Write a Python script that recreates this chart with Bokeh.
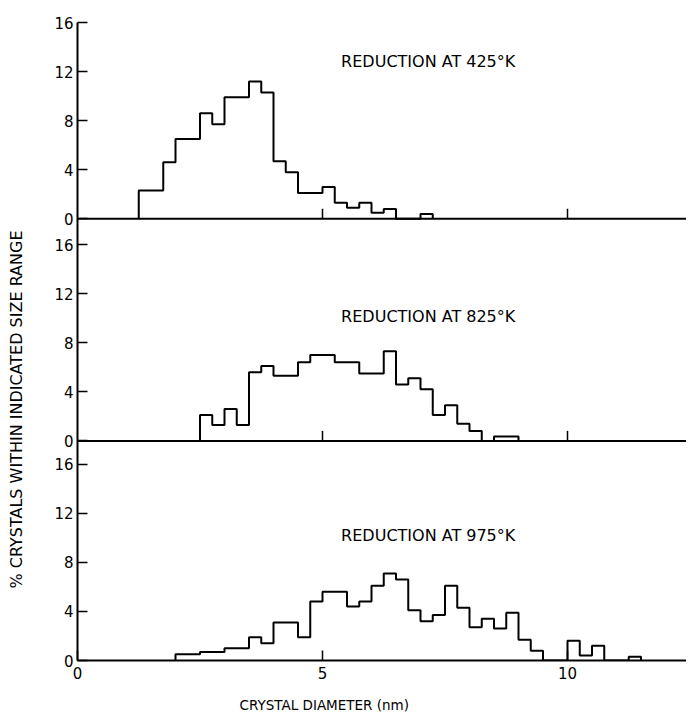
import numpy as np
from bokeh.plotting import figure
from bokeh.models import Range1d, FixedTicker, Label, Span, Title
from bokeh.layouts import row
from bokeh.embed import file_html
from bokeh.resources import INLINE

# ---------------- data ----------------
bin_width = 0.25
start_425 = 1.25
pct_425 = [2.3, 2.3, 4.6, 6.5, 6.5, 8.6, 7.7, 9.9, 9.9, 11.2, 10.3, 4.7,
           3.8, 2.1, 2.1, 2.6, 1.3, 0.9, 1.3, 0.5, 0.8, 0.0, 0.0, 0.4]
start_825 = 2.5
pct_825 = [2.1, 1.3, 2.6, 1.3, 5.6, 6.1, 5.3, 5.3, 6.4, 7.0, 7.0, 6.4, 6.4,
           5.5, 5.5, 7.3, 4.6, 5.1, 4.2, 2.1, 2.9, 1.4, 0.8, 0.0, 0.35, 0.35]
start_975 = 2.0
pct_975 = [0.5, 0.5, 0.7, 0.7, 1.0, 1.0, 1.9, 1.4, 3.1, 3.1, 1.9, 4.8, 5.6,
           5.6, 4.4, 4.8, 6.1, 7.1, 6.6, 4.1, 3.2, 3.7, 6.1, 4.3, 2.7, 3.4,
           2.6, 3.9, 1.7, 0.8, 0.0, 0.0, 1.6, 0.4, 1.2, 0.0, 0.0, 0.3]
panel_titles = ["REDUCTION AT 425°K", "REDUCTION AT 825°K", "REDUCTION AT 975°K"]
y_ticks = [0, 4, 8, 12, 16]
x_ticks = [0, 5, 10]
x_label = "CRYSTAL DIAMETER (nm)"
y_label = "% CRYSTALS WITHIN INDICATED SIZE RANGE"

FONT = "DejaVu Sans"

# panel heights in data units (top panel ends exactly at 16)
h1, h2, h3 = 16.0, 18.1, 17.9
off3 = 0.0
off2 = h3
off1 = h3 + h2
total = h1 + h2 + h3

frame_w = 609
px_per_nm = 49.0
x_end = frame_w / px_per_nm
side_w = 30          # narrow strip holding the vertical axis title
page_h = 718

p = figure(frame_width=frame_w, frame_height=638,
           x_range=Range1d(0, x_end), y_range=Range1d(0, total),
           output_backend="svg", toolbar_location=None,
           min_border_left=77 - side_w, min_border_right=0,
           min_border_top=22, min_border_bottom=58)
p.outline_line_color = None
p.xgrid.visible = False
p.ygrid.visible = False
p.extra_y_ranges = {
    "p1": Range1d(-off1, total - off1),
    "p2": Range1d(-off2, total - off2),
    "p3": Range1d(-off3, total - off3),
}

def step_xy(start, vals):
    edges = start + bin_width * np.arange(len(vals) + 1)
    xs = np.concatenate([[edges[0]], edges])
    ys = np.concatenate([[0.0], np.asarray(vals, dtype=float), [0.0]])
    return xs, ys

panels = [("p1", start_425, pct_425, 12.8),
          ("p2", start_825, pct_825, 10.1),
          ("p3", start_975, pct_975, 10.2)]

for (rn, st, vals, ty), title in zip(panels, panel_titles):
    xs, ys = step_xy(st, vals)
    p.step(xs, ys, mode="after", line_color="black", line_width=2,
           y_range_name=rn)
    p.add_layout(Label(x=5.38, y=ty, text=title, y_range_name=rn,
                       text_font=FONT, text_font_size="16px",
                       text_color="black", text_baseline="middle",
                       text_align="left"))

# baselines and inner x ticks for the upper panels
for rn in ["p1", "p2"]:
    p.add_layout(Span(location=0, dimension="width", y_range_name=rn,
                      line_color="black", line_width=2))
    p.ray(x=x_ticks[1:], y=[0] * len(x_ticks[1:]), length=10,
          length_units="screen", angle=np.pi / 2, line_color="black",
          line_width=1.5, y_range_name=rn)

# y axis: one continuous axis, ticks for each panel
tick_pos = []
overrides = {}
for off in (off3, off2, off1):
    for t in y_ticks:
        v = round(off + t, 3)
        tick_pos.append(v)
        overrides[v] = str(t)
yax = p.yaxis[0]
yax.ticker = FixedTicker(ticks=tick_pos)
yax.major_label_overrides = overrides
yax.major_tick_in = 10
yax.major_tick_out = 0
yax.minor_tick_line_color = None
yax.axis_line_width = 2
yax.major_tick_line_width = 1.5
yax.major_label_text_font = FONT
yax.major_label_text_font_size = "15px"
yax.major_label_text_color = "black"
yax.major_label_standoff = 4

xax = p.xaxis[0]
xax.ticker = FixedTicker(ticks=x_ticks)
xax.major_tick_in = 10
xax.major_tick_out = 0
xax.minor_tick_line_color = None
xax.axis_line_width = 2
xax.major_tick_line_width = 1.5
xax.major_label_text_font = FONT
xax.major_label_text_font_size = "15px"
xax.major_label_text_color = "black"
xax.major_label_standoff = 6

# x axis title, shifted along the axis to sit under x = 5
p.add_layout(Title(text=x_label, align="left", offset=162, standoff=26,
                   text_font=FONT, text_font_size="13.5px",
                   text_font_style="normal", text_color="black"), "below")

# narrow strip on the left carrying the vertical axis title
side = figure(frame_width=side_w, frame_height=page_h,
              x_range=Range1d(0, side_w), y_range=Range1d(0, page_h),
              output_backend="svg", toolbar_location=None,
              x_axis_location=None, y_axis_location=None,
              min_border_left=0, min_border_right=0,
              min_border_top=0, min_border_bottom=0)
side.outline_line_color = None
side.xgrid.visible = False
side.ygrid.visible = False
side.add_layout(Label(x=16, y=page_h - 387, text=y_label, angle=np.pi / 2,
                      text_font=FONT, text_font_size="16px",
                      text_color="black", text_align="center",
                      text_baseline="middle"))

open("out.html", "w").write(file_html(row(side, p), INLINE))
